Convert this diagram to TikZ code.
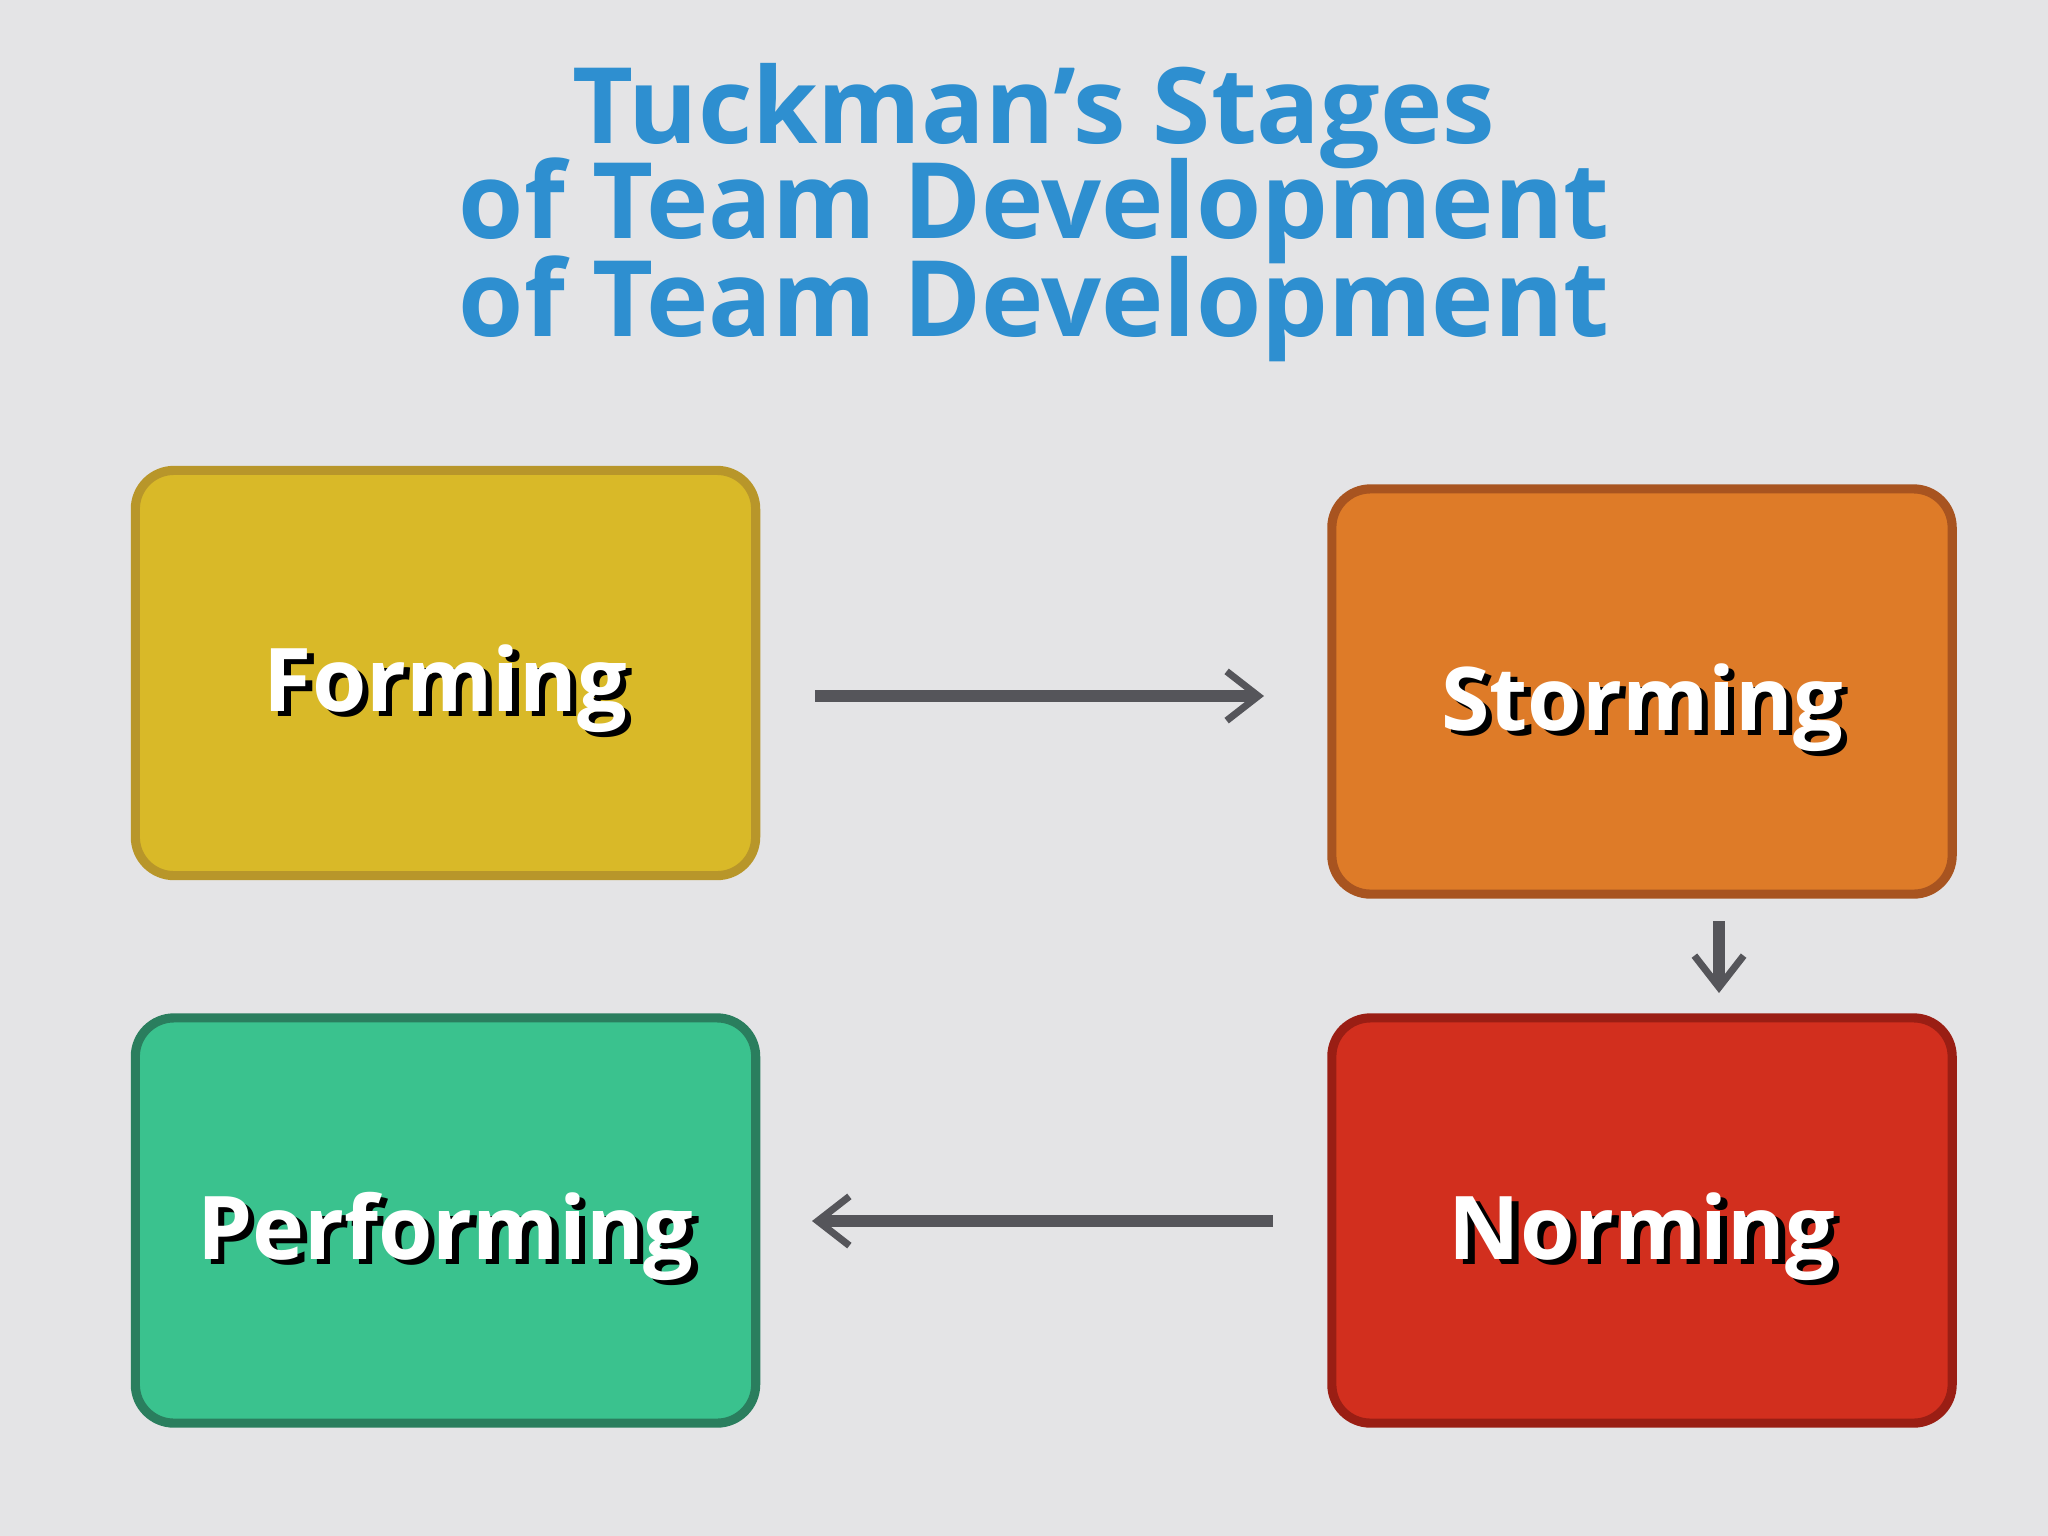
\documentclass[tikz,border=0pt]{standalone}
\usepackage{fontspec}
\setmainfont{Open Sans}
\usetikzlibrary{arrows.meta}
\definecolor{bg}{HTML}{E4E4E6}
\definecolor{ttl}{HTML}{2E8FD0}
\definecolor{fy}{HTML}{D9B928}\definecolor{fyd}{HTML}{B8962A}
\definecolor{so}{HTML}{DE7B28}\definecolor{sod}{HTML}{A85420}
\definecolor{pg}{HTML}{3AC28E}\definecolor{pgd}{HTML}{2A7E5E}
\definecolor{nr}{HTML}{D22F1E}\definecolor{nrd}{HTML}{9A1E14}
\definecolor{arr}{HTML}{55555A}
\tikzset{
 stage/.style={draw=#1, line width=2.6pt, rounded corners=11pt, minimum width=6.2cm, minimum height=4.05cm},
 lbl/.style={font=\fontsize{25}{30}\selectfont\bfseries},
 conn/.style={draw=arr, line width=3.2pt, -{Straight Barb[length=9pt,width=14pt,line width=2pt]}},
 ttlf/.style={font=\fontsize{30}{36}\selectfont\bfseries, text=ttl}
}
\begin{document}
\begin{tikzpicture}[x=0.01cm,y=-0.01cm]
\fill[bg] (0,0) rectangle (2048,1536);
\node[ttlf] (t1) at (1034,116) {Tuckman’s Stages};
\node[ttlf] (t2) at (1034,211) {of Team Development};
\node[ttlf] (t3) at (1034,309) {of Team Development};
\node[stage=fyd, fill=fy] (f) at (445.5,673) {};
\node[stage=sod, fill=so] (s) at (1642,691.5) {};
\node[stage=pgd, fill=pg] (p) at (445.5,1220.5) {};
\node[stage=nrd, fill=nr] (n) at (1642,1220.5) {};
\foreach \b/\t in {f/Forming, s/Storming, p/Performing, n/Norming}{
  \node[lbl, text=black] at ([xshift=1.8pt,yshift=-0.21cm]\b.center) {\t};
  \node[lbl, text=white] (\b l) at ([yshift=-0.16cm]\b.center) {\t};
}
\coordinate (a1) at (815,696); \coordinate (a2) at (1264,696);
\draw[conn] (a1) -- (a2);
\coordinate (b1) at (1719,921); \coordinate (b2) at (1719,993);
\draw[conn] (b1) -- (b2);
\coordinate (c1) at (1273,1221); \coordinate (c2) at (812,1221);
\draw[conn] (c1) -- (c2);
\end{tikzpicture}
\end{document}
